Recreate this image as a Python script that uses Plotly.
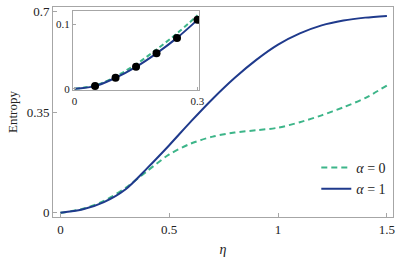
import plotly.graph_objects as go

# main panel data
eta = [0.0, 0.1, 0.2, 0.3, 0.4, 0.5, 0.6, 0.7, 0.8, 0.9, 1.0, 1.1, 1.2, 1.3, 1.4, 1.5]
s_alpha0 = [0.0, 0.013, 0.041, 0.087, 0.146, 0.203, 0.241, 0.265, 0.279, 0.287, 0.296, 0.315, 0.339, 0.367, 0.399, 0.443]
s_alpha1 = [0.0, 0.011, 0.037, 0.082, 0.156, 0.235, 0.318, 0.397, 0.469, 0.532, 0.585, 0.624, 0.652, 0.669, 0.679, 0.685]

# inset data
eta_in = [0.0, 0.05, 0.1, 0.15, 0.2, 0.25, 0.3]
s0_in = [0.0, 0.005, 0.019, 0.038, 0.061, 0.086, 0.114]
s1_in = [0.0, 0.004, 0.017, 0.034, 0.055, 0.079, 0.107]
dots_x = [0.05, 0.1, 0.15, 0.2, 0.25, 0.3]
dots_y = [0.004, 0.017, 0.034, 0.055, 0.079, 0.107]

main_ticks_x = [0, 0.5, 1, 1.5]
main_ticktext_x = ["0", "0.5", "1", "1.5"]
main_ticks_y = [0, 0.35, 0.7]
main_ticktext_y = ["0", "0.35", "0.7"]

GREEN = "#3db589"
NAVY = "#1f3a8c"
FRAME = "#a6a6a6"
FONT = "Liberation Serif"

fig = go.Figure()
fig.add_trace(go.Scatter(x=eta, y=s_alpha0, mode="lines", name="<i>α</i> = 0",
                         line=dict(color=GREEN, width=2, dash="6px,4px", shape="spline", smoothing=0.8)))
fig.add_trace(go.Scatter(x=eta, y=s_alpha1, mode="lines", name="<i>α</i> = 1",
                         line=dict(color=NAVY, width=2, shape="spline", smoothing=0.8)))

fig.add_trace(go.Scatter(x=eta_in, y=s0_in, mode="lines", showlegend=False, xaxis="x2", yaxis="y2",
                         line=dict(color=GREEN, width=2, dash="5px,3px", shape="spline")))
fig.add_trace(go.Scatter(x=eta_in, y=s1_in, mode="lines", showlegend=False, xaxis="x2", yaxis="y2",
                         line=dict(color=NAVY, width=2, shape="spline")))
fig.add_trace(go.Scatter(x=dots_x, y=dots_y, mode="markers", showlegend=False, xaxis="x2", yaxis="y2",
                         marker=dict(color="black", size=8)))

fig.update_layout(
    width=403, height=264,
    margin=dict(l=53, r=4, t=5, b=47),
    paper_bgcolor="white", plot_bgcolor="white",
    font=dict(family=FONT, size=13, color="#222"),
    showlegend=True,
    legend=dict(x=0.995, y=0.31, xanchor="right", yanchor="top", bgcolor="rgba(0,0,0,0)",
                font=dict(family=FONT, size=14), tracegroupgap=0, itemwidth=30),
    xaxis=dict(range=[-0.034, 1.528], tickvals=main_ticks_x, ticktext=main_ticktext_x,
               showgrid=False, zeroline=False, showline=True, mirror=True, linecolor=FRAME, linewidth=1,
               ticks="inside", ticklen=4, tickcolor=FRAME, tickfont=dict(family=FONT, size=13),
               title=dict(text="<i>η</i>", font=dict(family=FONT, size=14), standoff=8)),
    yaxis=dict(range=[-0.0148, 0.716], tickvals=main_ticks_y, ticktext=main_ticktext_y,
               showgrid=False, zeroline=False, showline=True, mirror=True, linecolor=FRAME, linewidth=1,
               ticks="inside", ticklen=4, tickcolor=FRAME, tickfont=dict(family=FONT, size=13),
               title=dict(text="Entropy", font=dict(family=FONT, size=13), standoff=6)),
    xaxis2=dict(domain=[0.0587, 0.4298], anchor="y2", range=[-0.004, 0.304], tickvals=[0, 0.3], ticktext=["0", "0.3"],
                showgrid=False, zeroline=False, showline=True, mirror=True, linecolor=FRAME, linewidth=1,
                ticks="inside", ticklen=3, tickcolor=FRAME, tickfont=dict(family=FONT, size=11)),
    yaxis2=dict(domain=[0.6024, 0.981], anchor="x2", range=[-0.0028, 0.1208], tickvals=[0, 0.1], ticktext=["0", "0.1"],
                showgrid=False, zeroline=False, showline=True, mirror=True, linecolor=FRAME, linewidth=1,
                ticks="inside", ticklen=3, tickcolor=FRAME, tickfont=dict(family=FONT, size=11)),
)

fig.write_html("out.html", config={"displayModeBar": False},
               post_script="document.body.style.margin='0';document.body.style.overflow='hidden';")
